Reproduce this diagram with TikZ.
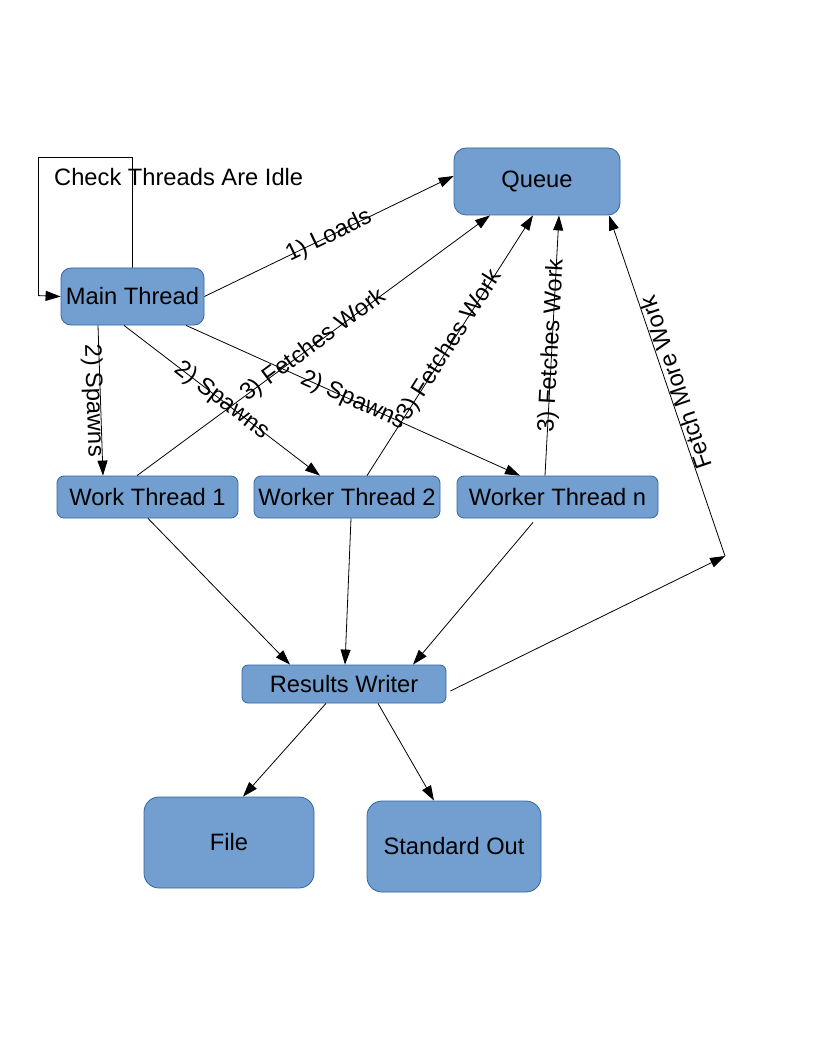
\documentclass[tikz,border=0pt]{standalone}
\usepackage{fontspec}
\setmainfont{Liberation Sans}
\usetikzlibrary{arrows.meta,calc}
\definecolor{boxfill}{HTML}{729FCF}
\definecolor{boxline}{HTML}{3465A4}
\begin{document}
\begin{tikzpicture}[x=1pt,y=-1pt,
  box/.style={draw=boxline, fill=boxfill, line width=0.8pt, rounded corners=#1,
    inner sep=0pt, font=\fontsize{23.7}{28}\selectfont},
  box/.default=8pt,
  arr/.style={draw, line width=0.8pt, -{Triangle[length=15pt,width=10pt]}},
  lbl/.style={font=\fontsize{23.7}{28}\selectfont, inner sep=0pt}]
\useasboundingbox (0,0) rectangle (816,1056);

\node[box=12pt, minimum width=166pt, minimum height=67pt] (queue) at (537,181.5) {Queue};
\node[box=10pt, minimum width=143pt, minimum height=57pt] (main) at (132.5,296.5) {Main Thread};
\node[box=7pt, minimum width=181pt, minimum height=42pt] (wt1) at (147.5,497) {Work Thread 1};
\node[box=7pt, minimum width=186pt, minimum height=42pt] (wt2) at (347,497) {Worker Thread 2};
\node[box=7pt, minimum width=201pt, minimum height=42pt] (wtn) at (557.5,497) {Worker Thread n};
\node[box=6pt, minimum width=204pt, minimum height=38pt] (rw) at (344,684) {Results Writer};
\node[box=15pt, minimum width=170pt, minimum height=91pt] (file) at (229,842.5) {File};
\node[box=15pt, minimum width=174pt, minimum height=91pt] (stdout) at (454,846.5) {Standard Out};

\node[lbl, anchor=west] (chk) at (54,177) {Check Threads Are Idle};
\coordinate (fm) at (725,556);

% loop
\draw[arr] (main.north) -- ++(0,-110) -- ++(-94,0) -- ++(0,138) -- (main.west);

\draw[arr] (main.east) -- node[lbl, sloped] {1) Loads} ([yshift=5.5pt]queue.west);
\draw[arr] ([xshift=-34.5pt]main.south) -- node[lbl, sloped, anchor=north, inner ysep=-4pt] {2) Spawns} ([xshift=-44.5pt]wt1.north);
\draw[arr] ([xshift=-8.5pt]main.south) -- node[lbl, sloped] {2) Spawns} ([xshift=-27pt]wt2.north);
\draw[arr] ([xshift=53.5pt]main.south) -- node[lbl, sloped] {2) Spawns} ([xshift=-37.5pt]wtn.north);
\draw[arr] ([xshift=-10.5pt]wt1.north) -- node[lbl, sloped] {3) Fetches Work} ([xshift=-47pt]queue.south);
\draw[arr] ([xshift=20pt]wt2.north) -- node[lbl, sloped] {3) Fetches Work} ([xshift=-4pt]queue.south);
\draw[arr] ([xshift=-12.5pt]wtn.north) -- node[lbl, sloped] {3) Fetches Work} ([xshift=22pt]queue.south);

\draw[arr] ([xshift=0.5pt]wt1.south) -- ([xshift=-54pt]rw.north);
\draw[arr] ([xshift=4pt]wt2.south) -- ([xshift=1pt]rw.north);
\draw[arr] ([xshift=-24.5pt,yshift=-4pt]wtn.south) -- ([xshift=69pt]rw.north);

\draw[arr] ([xshift=4pt,yshift=-7pt]rw.east) -- (fm);
\draw[arr] (fm) -- node[lbl, sloped, allow upside down, anchor=north] {Fetch More Work} ([xshift=72pt]queue.south);

\draw[arr] ([xshift=-18pt]rw.south) -- ([xshift=14pt]file.north);
\draw[arr] ([xshift=34pt]rw.south) -- ([xshift=-20pt]stdout.north);
\end{tikzpicture}
\end{document}
